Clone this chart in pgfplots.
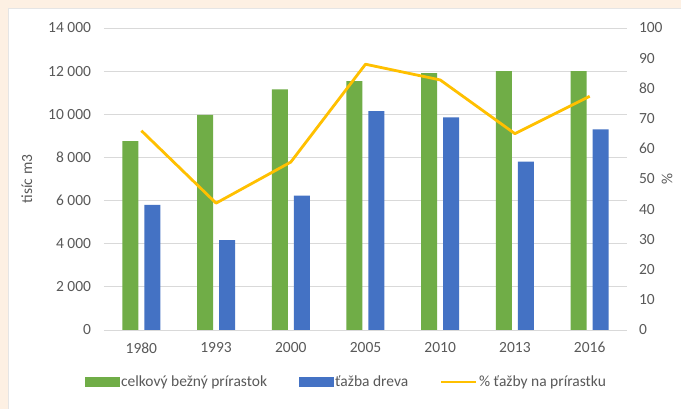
\documentclass[border=0pt]{standalone}
\usepackage{pgfplots}
\pgfplotsset{compat=1.18}
\usepackage{fontspec}
\setmainfont{Carlito}
\definecolor{cgreen}{HTML}{70AD47}
\definecolor{cblue}{HTML}{4472C4}
\definecolor{cyellow}{HTML}{FFC000}
\definecolor{ctext}{HTML}{595959}
\definecolor{cgrid}{HTML}{D9D9D9}
\definecolor{cbeige}{HTML}{FDF0E3}
\newcommand{\chartfont}{\fontsize{15.5pt}{18pt}\selectfont}
\begin{document}
\begin{tikzpicture}[x=1pt,y=1pt]
\useasboundingbox (0,0) rectangle (681,409);
\fill[cbeige] (0,0) rectangle (681,409);
\fill[white] (8,0) rectangle (681,401);
\draw[black!10, line width=0.6pt] (8,-2) -- (8,401) -- (683,401);
\begin{axis}[
  at={(104pt,79pt)}, anchor=south west, scale only axis,
  width=523pt, height=302pt,
  xmin=-0.5, xmax=6.5, ymin=0, ymax=14000,
  enlargelimits=false,
  ybar=6pt, bar width=16pt,
  xtick={0,1,2,3,4,5,6},
  xticklabels={1980,1993,2000,2005,2010,2013,2016},
  ytick={0,2000,4000,6000,8000,10000,12000,14000},
  yticklabels={0,2 000,4 000,6 000,8 000,10 000,12 000,14 000},
  scaled y ticks=false,
  /pgf/number format/assume math mode=true,
  ymajorgrids, grid style={cgrid, line width=0.8pt},
  axis line style={draw=none}, major tick length=0pt,
  tick label style={font=\chartfont, text=ctext},
  xticklabel style={yshift=-9pt},
  yticklabel style={xshift=-9.5pt},
  ylabel={tisíc m3},
  ylabel style={at={(axis description cs:-0.1475,0.5)}, anchor=center, font=\chartfont, text=ctext},
  legend style={at={(axis description cs:0.4627,-0.172)}, anchor=center,
    draw=none, fill=none, legend columns=3, font=\chartfont, text=ctext,
    /tikz/every even column/.append style={column sep=30pt},
    nodes={inner sep=1.5pt}},
]
\addplot[fill=cgreen, draw=none,
  legend image code/.code={\fill[cgreen] (0pt,-5pt) rectangle (35pt,5pt);}]
  coordinates {(0,8760) (1,9970) (2,11160) (3,11540) (4,11910) (5,12000) (6,12000)};
\addlegendentry{celkový bežný prírastok}
\addplot[fill=cblue, draw=none,
  legend image code/.code={\fill[cblue] (0pt,-5pt) rectangle (35pt,5pt);}]
  coordinates {(0,5800) (1,4170) (2,6230) (3,10150) (4,9860) (5,7800) (6,9300)};
\addlegendentry{ťažba dreva}
\addlegendimage{legend image code/.code={\draw[cyellow, line width=2.8pt] (0pt,0pt) -- (35pt,0pt);}}
\addlegendentry{\% ťažby na prírastku}
\end{axis}
\begin{axis}[
  at={(104pt,79pt)}, anchor=south west, scale only axis,
  width=523pt, height=302pt,
  xmin=-0.5, xmax=6.5, ymin=0, ymax=100,
  enlargelimits=false,
  axis x line=none, axis y line*=right,
  ytick={0,10,20,30,40,50,60,70,80,90,100},
  /pgf/number format/assume math mode=true,
  axis line style={draw=none}, major tick length=0pt,
  tick label style={font=\chartfont, text=ctext},
  yticklabel style={xshift=8.5pt},
  ylabel={\%},
  ylabel style={at={(axis description cs:1.0765,0.5)}, anchor=center, rotate=180, font=\chartfont, text=ctext},
]
\addplot[cyellow, line width=2.8pt, line join=round] coordinates {(0,66) (1,42) (2,55.6) (3,88) (4,82.8) (5,65) (6,77.4)};
\end{axis}
\end{tikzpicture}
\end{document}
